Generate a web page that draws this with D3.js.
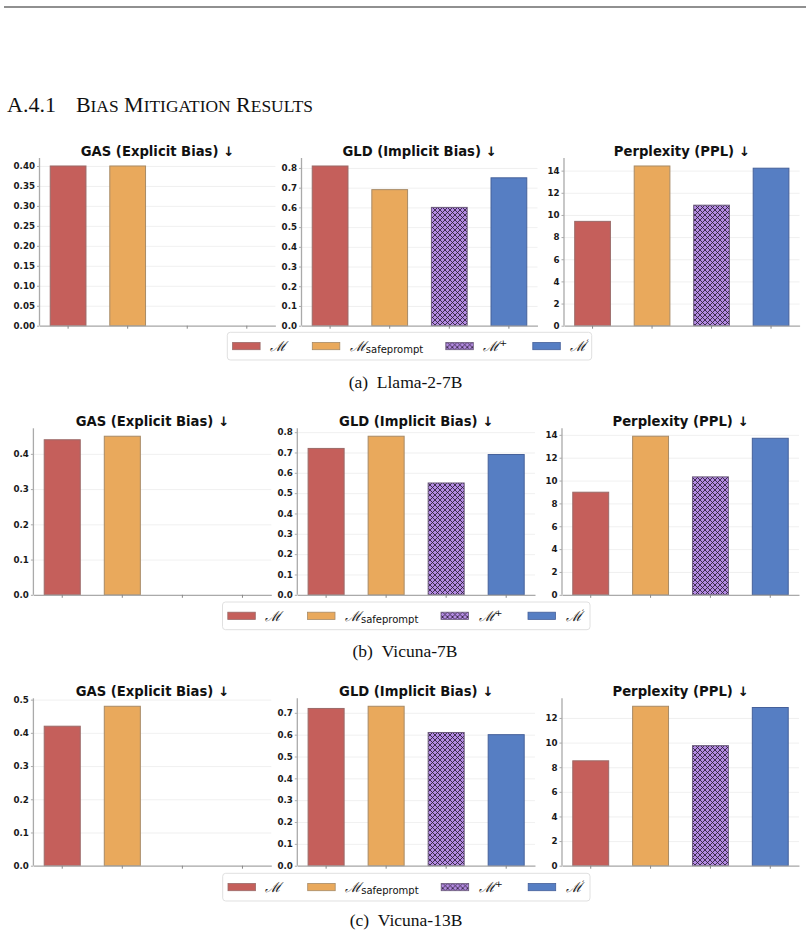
<!DOCTYPE html>
<html>
<head>
<meta charset="utf-8">
<script src="https://cdn.jsdelivr.net/npm/d3@7"></script>
<style>
  html, body { margin: 0; padding: 0; background: #fff; }
  svg { display: block; }
</style>
</head>
<body>
<div id="chart"></div>
<script>
// ----------------------------
// DATA
// ----------------------------
const models = ["M", "Msafeprompt", "Mplus", "Mprime"];
const rowNames = ["(a)\u2002Llama-2-7B", "(b)\u2002Vicuna-7B", "(c)\u2002Vicuna-13B"];
const metricTitles = ["GAS (Explicit Bias) \u2193", "GLD (Implicit Bias) \u2193", "Perplexity (PPL) \u2193"];

const gasValues = [
  [0.40, 0.40, null, null],
  [0.44, 0.45, null, null],
  [0.42, 0.48, null, null]
];
const gldValues = [
  [0.81, 0.69, 0.60, 0.75],
  [0.72, 0.78, 0.55, 0.69],
  [0.72, 0.73, 0.61, 0.60]
];
const pplValues = [
  [9.42, 14.42, 10.88, 14.22],
  [8.98, 13.88, 10.32, 13.70],
  [8.52, 12.95, 9.75, 12.85]
];

const gasTicks = [
  [0, 0.05, 0.10, 0.15, 0.20, 0.25, 0.30, 0.35, 0.40],
  [0, 0.1, 0.2, 0.3, 0.4],
  [0, 0.1, 0.2, 0.3, 0.4, 0.5]
];
const gldTicks = [
  [0, 0.1, 0.2, 0.3, 0.4, 0.5, 0.6, 0.7, 0.8],
  [0, 0.1, 0.2, 0.3, 0.4, 0.5, 0.6, 0.7, 0.8],
  [0, 0.1, 0.2, 0.3, 0.4, 0.5, 0.6, 0.7]
];
const pplTicks = [
  [0, 2, 4, 6, 8, 10, 12, 14],
  [0, 2, 4, 6, 8, 10, 12, 14],
  [0, 2, 4, 6, 8, 10, 12]
];
const gasFormats = [".2f", ".1f", ".1f"];

// ----------------------------
// LAYOUT
// ----------------------------
const width = 806;
const height = 935;

const rowTop = [158, 428.3, 698.3];
const rowBottom = [325.7, 594.8, 865.7];
const panelX = [
  [[39.5, 275.4], [301.5, 537.5], [564, 799.6]],
  [[33.4, 271.3], [297.3, 535], [562, 799]],
  [[33.4, 271.3], [297.3, 535], [562, 799]]
];
const legendBox = [
  { x: 227.3, y: 332.3, w: 364.4 },
  { x: 222.5, y: 602, w: 367.5 },
  { x: 222.7, y: 873.3, w: 367.3 }
];
const captionY = [388, 657, 926];
const captionX = [405.5, 405, 406];

const colors = ["#c55f5b", "#e9a95c", "url(#hatch)", "#567ec3"];
const edge = ["#9a6a68", "#a78a66", "#6a5a7a", "#45609a"];

const svg = d3.select("#chart")
  .append("svg")
  .attr("width", width)
  .attr("height", height);

// hatch pattern for M+
const hs = 5;
const defs = svg.append("defs");
const hatch = defs.append("pattern")
  .attr("id", "hatch")
  .attr("patternUnits", "userSpaceOnUse")
  .attr("width", hs)
  .attr("height", hs);
hatch.append("rect").attr("width", hs).attr("height", hs).attr("fill", "#b48be3");
hatch.append("path")
  .attr("d", `M0,0L${hs},${hs}M0,${hs}L${hs},0`)
  .attr("stroke", "#2a1f35")
  .attr("stroke-width", 0.85);

// ----------------------------
// PAGE HEADER
// ----------------------------
svg.append("line")
  .attr("x1", 4).attr("x2", width)
  .attr("y1", 7).attr("y2", 7)
  .attr("stroke", "#222")
  .attr("stroke-width", 1.1);

const head = svg.append("text")
  .attr("x", 7)
  .attr("y", 112)
  .attr("font-family", "Liberation Serif")
  .attr("font-size", "22px")
  .attr("fill", "#111");
head.append("tspan").text("A.4.1");
const words = ["Bias", "Mitigation", "Results"];
words.forEach((w, i) => {
  head.append("tspan")
    .attr("dx", i === 0 ? 20 : 5.5)
    .text(w[0].toUpperCase());
  head.append("tspan")
    .attr("font-size", "17.4px")
    .text(w.slice(1).toUpperCase());
});

// ----------------------------
// PANELS
// ----------------------------
function drawPanel(row, col, values, ticks, fmt) {
  const [x0, x1] = panelX[row][col];
  const top = rowTop[row];
  const bottom = rowBottom[row];

  const x = d3.scaleBand()
    .domain(models)
    .range([x0, x1])
    .paddingInner(0.4)
    .paddingOuter(0.18);

  const maxVal = d3.max(values.filter(v => v != null));
  const y = d3.scaleLinear()
    .domain([0, maxVal * 1.05])
    .range([bottom, top]);

  const g = svg.append("g");

  // grid
  g.append("g")
    .attr("transform", `translate(${x0},0)`)
    .call(d3.axisLeft(y).tickValues(ticks).tickSize(-(x1 - x0)).tickFormat(""))
    .call(a => a.select(".domain").remove())
    .call(a => a.selectAll("line").attr("stroke", "#ececec").attr("stroke-width", 0.8));

  // bars
  g.selectAll(".bar")
    .data(models.map((m, i) => ({ m, i, v: values[i] })).filter(d => d.v != null))
    .join("rect")
    .attr("class", "bar")
    .attr("x", d => x(d.m))
    .attr("width", x.bandwidth())
    .attr("y", d => y(d.v))
    .attr("height", d => bottom - y(d.v))
    .attr("fill", d => colors[d.i])
    .attr("stroke", d => edge[d.i])
    .attr("stroke-width", 1);

  // y axis
  g.append("g")
    .attr("transform", `translate(${x0},0)`)
    .call(d3.axisLeft(y).tickValues(ticks).tickFormat(d3.format(fmt)).tickSize(2.5).tickSizeOuter(0).tickPadding(2))
    .call(a => a.select(".domain").attr("stroke", "#aaa").attr("stroke-width", 1.3).attr("d", `M0,${top}V${bottom}`))
    .call(a => a.selectAll(".tick line").attr("stroke", "#aaa"))
    .call(a => a.selectAll("text")
      .attr("font-family", "DejaVu Sans")
      .attr("font-weight", "bold")
      .attr("font-size", "8.7px")
      .attr("fill", "#1a1a1a"));

  // x axis
  g.append("g")
    .attr("transform", `translate(0,${bottom})`)
    .call(d3.axisBottom(x).tickFormat("").tickSize(3).tickSizeOuter(0))
    .call(a => a.select(".domain").attr("stroke", "#aaa").attr("stroke-width", 1.3))
    .call(a => a.selectAll(".tick line").attr("stroke", "#888"));

  // title
  g.append("text")
    .attr("x", (x0 + x1) / 2)
    .attr("y", top - 2.3)
    .attr("text-anchor", "middle")
    .attr("font-family", "DejaVu Sans")
    .attr("font-weight", "bold")
    .attr("font-size", "13.2px")
    .attr("fill", "#111")
    .text(metricTitles[col]);
}

// ----------------------------
// LEGEND
// ----------------------------
function drawLegend(row) {
  const b = legendBox[row];
  const lg = svg.append("g").attr("transform", `translate(${b.x},${b.y})`);

  lg.append("rect")
    .attr("width", b.w)
    .attr("height", 27.7)
    .attr("rx", 3)
    .attr("fill", "#fff")
    .attr("stroke", "#dcdcdc")
    .attr("stroke-width", 0.9);

  const offsets = [5.3, 85, 218.5, 305.5];
  models.forEach((m, i) => {
    lg.append("rect")
      .attr("x", offsets[i])
      .attr("y", 10.2)
      .attr("width", 27.5)
      .attr("height", 7.2)
      .attr("fill", colors[i])
      .attr("stroke", edge[i])
      .attr("stroke-width", 0.8);

    const t = lg.append("text")
      .attr("x", offsets[i] + 37.5)
      .attr("y", 19)
      .attr("font-family", "DejaVu Serif")
      .attr("font-style", "italic")
      .attr("font-size", "14px")
      .attr("fill", "#111")
      .text("\u2133");
    if (m === "Msafeprompt") {
      t.append("tspan")
        .attr("font-family", "DejaVu Sans")
        .attr("font-style", "normal")
        .attr("font-size", "10px")
        .attr("dy", 1.5)
        .text("safeprompt");
    } else if (m === "Mplus") {
      t.append("tspan")
        .attr("font-family", "DejaVu Sans")
        .attr("font-style", "normal")
        .attr("font-size", "9.5px")
        .attr("dy", -5.5)
        .text("+");
    } else if (m === "Mprime") {
      t.append("tspan")
        .attr("font-family", "DejaVu Sans")
        .attr("font-style", "normal")
        .attr("font-size", "8px")
        .attr("dx", -1)
        .attr("dy", -4)
        .text("\u00b4");
    }
  });
}

// ----------------------------
// DRAW ROWS
// ----------------------------
rowNames.forEach((name, r) => {
  drawPanel(r, 0, gasValues[r], gasTicks[r], gasFormats[r]);
  drawPanel(r, 1, gldValues[r], gldTicks[r], ".1f");
  drawPanel(r, 2, pplValues[r], pplTicks[r], "d");
  drawLegend(r);

  svg.append("text")
    .attr("x", captionX[r])
    .attr("y", captionY[r])
    .attr("text-anchor", "middle")
    .attr("font-family", "Liberation Serif")
    .attr("font-size", "17.5px")
    .attr("fill", "#111")
    .text(name);
});
</script>
</body>
</html>
